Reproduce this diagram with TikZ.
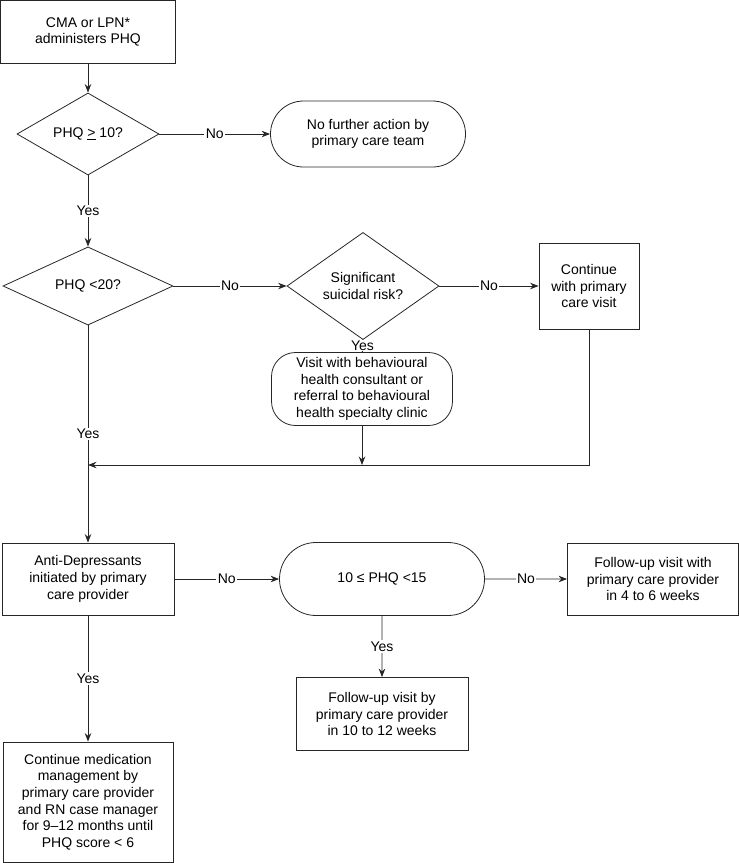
\documentclass[tikz,border=0pt]{standalone}
\usepackage{fontspec}
\setmainfont{Liberation Sans}
\usetikzlibrary{arrows.meta,shapes.geometric,shapes.misc}

\begin{document}
\begin{tikzpicture}[x=1pt,y=-1pt,
  font=\fontsize{14}{16.7}\selectfont,
  line width=0.8pt,
  box/.style={draw=black!85,rectangle,align=center,inner sep=2pt},
  decision/.style={draw=black!85,diamond,align=center,inner sep=0pt},
  terminal/.style={draw=black!85,rounded rectangle,align=center,inner sep=2pt},
  lbl/.style={fill=white,inner sep=1.5pt},
  link/.style={draw=black!85,-{Stealth[length=8.5pt,width=6.5pt]}}]
  \useasboundingbox (0,0) rectangle (739,863);

  % boxes and decisions
  \node[box,minimum width=175,minimum height=63] (cma) at (88,32) {CMA or LPN*\\administers PHQ};
  \node[decision,minimum width=142,minimum height=66] (q10) at (88,134) {PHQ \underline{>} 10?};
  \node[terminal,minimum width=199,minimum height=66] (nofurther) at (368,134) {No further action by\\primary care team};
  \node[decision,minimum width=170,minimum height=78] (q20) at (88,286) {PHQ <20?};
  \node[decision,minimum width=152,minimum height=90] (risk) at (363,286) {Significant\\suicidal risk?};
  \node[box,minimum width=100,minimum height=86] (contvisit) at (589,286) {Continue\\with primary\\care visit};
  \node[box,rounded corners=24,minimum width=181,minimum height=73] (visitbh) at (362,389) {Visit with behavioural\\health consultant or\\referral to behavioural\\health specialty clinic};
  \node[box,minimum width=172,minimum height=72] (antidep) at (88,579) {Anti-Depressants\\initiated by primary\\care provider};
  \node[terminal,minimum width=209,minimum height=73] (range) at (382,579) {10 ≤ PHQ <15};
  \node[box,minimum width=171,minimum height=72] (fu46) at (653,579) {Follow-up visit with\\primary care provider\\in 4 to 6 weeks};
  \node[box,minimum width=172,minimum height=73] (fu1012) at (382,714) {Follow-up visit by\\primary care provider\\in 10 to 12 weeks};
  \node[box,minimum width=170,minimum height=120] (contmed) at (88,802) {Continue medication\\management by\\primary care provider\\and RN case manager\\for 9--12 months until\\PHQ score < 6};
  \coordinate (merge) at (88,465);

  % connectors
  \draw[link] (cma) -- (q10);
  \draw[link] (q10) -- node[lbl] {No} (nofurther);
  \draw[link] (q10) -- node[lbl] {Yes} (q20);
  \draw[link] (q20) -- node[lbl] {No} (risk);
  \draw[link] (risk) -- node[lbl] {No} (contvisit);
  \draw[draw=black!85] (risk) -- node[lbl,inner sep=0.5pt] {Yes} (visitbh);
  \draw[link] (q20) -- node[lbl] {Yes} (antidep);
  \draw[link] (visitbh) -- (visitbh |- merge);
  \draw[link] (contvisit) |- (merge);
  \draw[link] (antidep) -- node[lbl] {No} (range);
  \draw[link] (range) -- node[lbl] {No} (fu46);
  \draw[link] (range) -- node[lbl] {Yes} (fu1012);
  \draw[link] (antidep) -- node[lbl] {Yes} (contmed);
\end{tikzpicture}
\end{document}
